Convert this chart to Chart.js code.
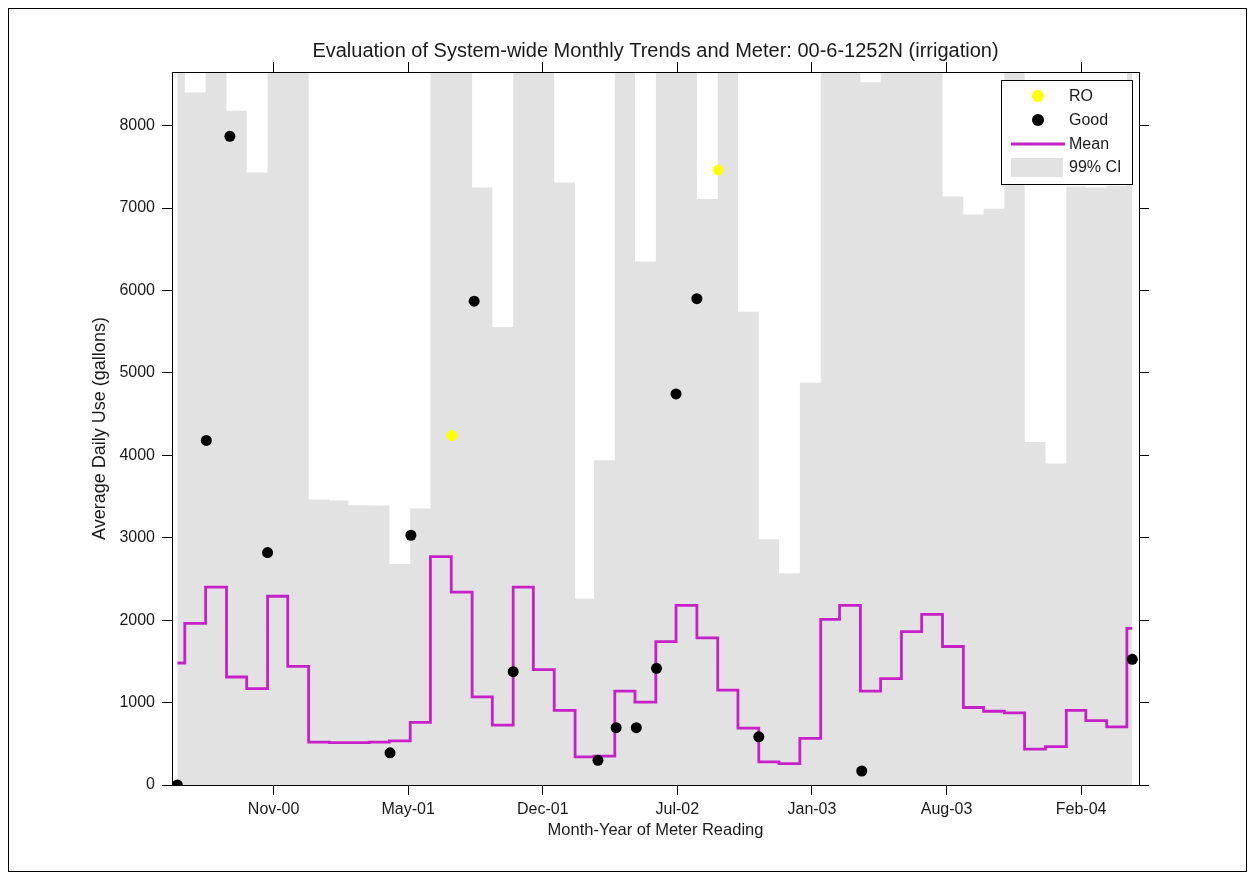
<!DOCTYPE html>
<html><head><meta charset="utf-8">
<script src="https://cdn.jsdelivr.net/npm/chart.js@4.4.1/dist/chart.umd.min.js"></script>
<style>
html,body{margin:0;padding:0;background:#fff;}
#wrap{position:absolute;left:0;top:0;width:1255px;height:880px;}
#frame{position:absolute;left:8px;top:8px;width:1239px;height:864px;border:1px solid #000;box-sizing:border-box;pointer-events:none;}
</style></head><body>
<div id="wrap"><canvas id="c" width="1255" height="880"></canvas></div>
<div id="frame"></div>
<script>
const chartTitle = 'Evaluation of System-wide Monthly Trends and Meter: 00-6-1252N (irrigation)';
const xTitle = 'Month-Year of Meter Reading';
const yTitle = 'Average Daily Use (gallons)';

const tickDates  = ['2000-11-10','2001-05-29','2001-12-15','2002-07-03','2003-01-19','2003-08-07','2004-02-23'];
const tickLabels = ['Nov-00','May-01','Dec-01','Jul-02','Jan-03','Aug-03','Feb-04'];
const yTicks = [0,1000,2000,3000,4000,5000,6000,7000,8000];
const xMinDate = '2000-06-12', xMaxDate = '2004-05-19';
const yMax = 8650;

// billing periods (start dates) and end of last period
const periodStarts = [
 '2000-06-20','2000-07-01','2000-08-01','2000-09-01','2000-10-01','2000-11-01','2000-12-01',
 '2001-01-01','2001-02-01','2001-03-01','2001-04-01','2001-05-01','2001-06-01','2001-07-01','2001-08-01','2001-09-01','2001-10-01','2001-11-01','2001-12-01',
 '2002-01-01','2002-02-01','2002-03-01','2002-04-01','2002-05-01','2002-06-01','2002-07-01','2002-08-01','2002-09-01','2002-10-01','2002-11-01','2002-12-01',
 '2003-01-01','2003-02-01','2003-03-01','2003-04-01','2003-05-01','2003-06-01','2003-07-01','2003-08-01','2003-09-01','2003-10-01','2003-11-01','2003-12-01',
 '2004-01-01','2004-02-01','2004-03-01','2004-04-01','2004-05-01'];
const periodEnd = '2004-05-09';

const meanValues = [
 1480,1960,2400,1310,1170,2290,1440,
 520,515,515,520,535,760,2770,2340,1070,727,2400,1400,
 905,340,350,1140,1005,1740,2180,1785,1150,690,280,260,
 565,2010,2180,1140,1290,1860,2070,1680,940,895,875,435,
 465,905,780,705,1900];

// upper 99% CI bound (values above 8650 run off the top of the axes)
const ciUpper = [
 9400,8400,9400,8180,7430,9400,9400,
 3465,3450,3395,3390,2680,3355,9400,9400,7250,5555,9400,9400,
 7310,2260,3940,9400,6350,9400,9400,7110,9400,5740,2980,2570,
 4880,9400,9400,8525,9400,9400,9400,7140,6920,6990,9400,4160,
 3900,7260,7250,7270,9400];

const goodDates = ['2000-06-20','2000-08-02','2000-09-06','2000-11-01','2001-05-02','2001-06-02','2001-09-04','2001-11-01',
 '2002-03-07','2002-04-03','2002-05-03','2002-06-02','2002-07-01','2002-08-01','2002-11-01','2003-04-03','2004-05-09'];
const goodValues = [0,4180,7870,2820,390,3030,5870,1375,300,695,695,1415,4745,5900,585,170,1525];

const roDates = ['2001-08-02','2002-09-02'];
const roValues = [4240,7460];

const FONT = '"Liberation Sans", Arial, Helvetica, sans-serif';
const TXT = '#1a1a1a';
const MAGENTA = '#c820c8';
const GRAY = '#e2e2e2';

const day = s => (Date.UTC(+s.slice(0,4), +s.slice(5,7)-1, +s.slice(8,10)) - Date.UTC(2000,0,1)) / 864e5;
const stepData = vals => periodStarts.map((s,i)=>({x:day(s), y:vals[i]})).concat([{x:day(periodEnd), y:vals[vals.length-1]}]);
const ptData = (ds, vs) => ds.map((s,i)=>({x:day(s), y:vs[i]}));

const setXTicks = s => { s.ticks = tickDates.map(d=>({value:day(d)})); };
const setYTicks = s => { s.ticks = yTicks.map(v=>({value:v})); };

const legendPlugin = {
  id: 'boxLegend',
  afterDraw(chart) {
    const ctx = chart.ctx, a = chart.chartArea;
    const x0 = a.right - 138, y0 = a.top + 8, w = 131, h = 104;
    ctx.save();
    ctx.fillStyle = '#fff';
    ctx.fillRect(x0, y0, w, h);
    ctx.strokeStyle = '#000'; ctx.lineWidth = 1;
    ctx.strokeRect(x0 + 0.5, y0 + 0.5, w, h);
    const rows = [16, 40, 64, 87];
    ctx.font = '16px ' + FONT; ctx.textBaseline = 'middle'; ctx.textAlign = 'left';
    chart.data.datasets.forEach((d, i) => {
      const y = y0 + rows[i];
      if (d.legendKind === 'point') {
        ctx.beginPath(); ctx.fillStyle = d.backgroundColor;
        ctx.arc(x0 + 37, y, 6, 0, Math.PI * 2); ctx.fill();
      } else if (d.legendKind === 'line') {
        ctx.beginPath(); ctx.strokeStyle = d.borderColor; ctx.lineWidth = 2.8;
        ctx.moveTo(x0 + 10, y); ctx.lineTo(x0 + 64, y); ctx.stroke();
      } else {
        ctx.fillStyle = d.backgroundColor; ctx.fillRect(x0 + 10, y - 9, 52, 19);
      }
      ctx.fillStyle = TXT;
      ctx.fillText(d.label, x0 + 68, y + 1);
    });
    ctx.restore();
  }
};

const axisCommon = {
  grid: { drawOnChartArea: false, color: '#000', tickColor: '#000', tickLength: 10, lineWidth: 1 },
  border: { color: '#000', width: 1, z: 1 }
};

new Chart(document.getElementById('c'), {
  type: 'line',
  data: {
    datasets: [
      { label: 'RO', legendKind: 'point', type: 'scatter', data: ptData(roDates, roValues), backgroundColor: '#ffff00',
        borderWidth: 0, pointRadius: 5.5, pointHoverRadius: 5.5, order: 0 },
      { label: 'Good', legendKind: 'point', type: 'scatter', data: ptData(goodDates, goodValues), backgroundColor: '#000000',
        borderWidth: 0, pointRadius: 5.5, pointHoverRadius: 5.5, order: 1 },
      { label: 'Mean', legendKind: 'line', data: stepData(meanValues), stepped: true, borderColor: MAGENTA, borderWidth: 2.8,
        pointRadius: 0, fill: false, order: 2 },
      { label: '99% CI', legendKind: 'rect', data: stepData(ciUpper), stepped: true, borderWidth: 0, borderColor: GRAY,
        backgroundColor: GRAY, pointRadius: 0, fill: 'origin', order: 3 }
    ]
  },
  options: {
    responsive: false, animation: false, devicePixelRatio: 1,
    layout: { padding: 0 },
    plugins: { legend: { display: false }, title: { display: false }, tooltip: { enabled: false } },
    scales: {
      x: { type: 'linear', position: 'bottom', min: day(xMinDate), max: day(xMaxDate), ...axisCommon,
        afterBuildTicks: setXTicks,
        ticks: { autoSkip: false, maxRotation: 0, padding: 5, color: TXT, font: { family: FONT, size: 16 },
          callback: (v, i) => tickLabels[i] },
        title: { display: true, text: xTitle, color: TXT, font: { family: FONT, size: 16.5 }, padding: { top: 0, bottom: 40 } },
        afterFit: s => { s.height = 95; } },
      x2: { type: 'linear', position: 'top', min: day(xMinDate), max: day(xMaxDate), ...axisCommon,
        afterBuildTicks: setXTicks,
        ticks: { display: false },
        title: { display: true, text: chartTitle, color: TXT, font: { family: FONT, size: 20 }, padding: { top: 39, bottom: 0 } },
        afterFit: s => { s.height = 72; } },
      y: { type: 'linear', position: 'left', min: 0, max: yMax, ...axisCommon,
        afterBuildTicks: setYTicks,
        ticks: { padding: 7, color: TXT, font: { family: FONT, size: 16 }, callback: v => String(v) },
        title: { display: true, text: yTitle, color: TXT, font: { family: FONT, size: 18 }, padding: { top: 89, bottom: 0 } },
        afterFit: s => { s.width = 172; } },
      y2: { type: 'linear', position: 'right', min: 0, max: yMax, ...axisCommon,
        afterBuildTicks: setYTicks,
        ticks: { display: false },
        afterFit: s => { s.width = 116; } }
    }
  },
  plugins: [legendPlugin]
});
</script>
</body></html>
